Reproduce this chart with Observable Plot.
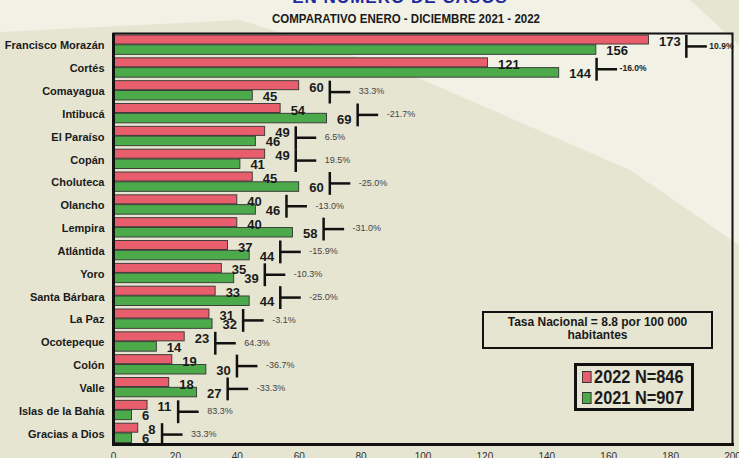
<!DOCTYPE html>
<html><head><meta charset="utf-8">
<script src="https://cdn.jsdelivr.net/npm/d3@7"></script>
<script src="https://cdn.jsdelivr.net/npm/@observablehq/plot@0.6"></script>
<style>
html,body{margin:0;padding:0;background:#E6E5D2;}
#wrap{position:relative;width:739px;height:458px;overflow:hidden;font-family:"Liberation Sans",Arial,sans-serif;}
#bg{position:absolute;left:0;top:0;width:739px;height:458px;background:#F1F1E6;
 clip-path:polygon(0px 0px,690px 0px,739px 45px,739px 245px,630px 170px,400px 70px,240px 20px,0px 32px);}
#chart{position:absolute;left:0;top:0;}
.t-main{position:absolute;left:0;width:800px;text-align:center;top:0;height:20px;line-height:20px;color:#1f2a9c;font-weight:bold;font-size:17px;letter-spacing:1px;transform:translateY(-12px);}
.t-sub{position:absolute;left:0;width:812px;text-align:center;top:12px;color:#1a1a1a;font-weight:bold;font-size:12.5px;transform:scaleX(0.92);transform-origin:406px 0;}
#tasa{position:absolute;left:482px;top:311px;width:227px;height:31px;border:2px solid #111;text-align:center;font-weight:bold;font-size:12px;line-height:13px;color:#1a1a1a;padding-top:3px;box-sizing:content-box;}
#legend{position:absolute;left:574px;top:363px;width:114px;height:42px;border:3px solid #111;}
.li{position:absolute;left:5px;height:20px;display:flex;align-items:center;font-weight:bold;font-size:19px;color:#1a1a1a;transform:scaleX(0.86);transform-origin:0 50%;white-space:nowrap;}
.sw{width:9px;height:10px;border:1px solid #333;margin-right:3px;}
</style></head>
<body>
<div id="wrap">
  <div id="bg"></div>
  <div id="chart"></div>
  <div class="t-main">EN NÚMERO DE CASOS</div>
  <div class="t-sub">COMPARATIVO ENERO - DICIEMBRE 2021 - 2022</div>
  <div id="tasa"></div>
  <div id="legend"></div>
</div>
<script>
const departamentos = ["Francisco Morazán","Cortés","Comayagua","Intibucá","El Paraíso","Copán","Choluteca","Olancho","Lempira","Atlántida","Yoro","Santa Bárbara","La Paz","Ocotepeque","Colón","Valle","Islas de la Bahía","Gracias a Dios"];
const casos2022 = [173,121,60,54,49,49,45,40,40,37,35,33,31,23,19,18,11,8];
const casos2021 = [156,144,45,69,46,41,60,46,58,44,39,44,32,14,30,27,6,6];
const variacion = ["10.9%","-16.0%","33.3%","-21.7%","6.5%","19.5%","-25.0%","-13.0%","-31.0%","-15.9%","-10.3%","-25.0%","-3.1%","64.3%","-36.7%","-33.3%","83.3%","33.3%"];
const xTicks = [0,20,40,60,80,100,120,140,160,180,200];
const seriesNames = ["2022 N=846","2021 N=907"];
const seriesColors = ["#E95E6C","#4DAA4A"];
const tasaText = ["Tasa Nacional = 8.8 por 100 000","habitantes"];

const W = 739, H = 458, mL = 113, mR = 7, mT = 33, mB = 14;
const k = (W - mL - mR) / 200; // px per unit
const digitW = 6.8;
const rows = departamentos.map((name, i) => {
  const a = casos2022[i], b = casos2021[i];
  const endA = a + (10 + digitW * String(a).length) / k;
  const endB = b + (10 + digitW * String(b).length) / k;
  const bx = Math.max(endA, endB) + 7 / k;
  return {name, a, b, pct: variacion[i], bx, bx2: bx + 21 / k, bold: i < 2};
});

const plot = Plot.plot({
  width: W, height: H,
  marginLeft: mL, marginRight: mR, marginTop: mT, marginBottom: mB,
  style: {background: "transparent", fontFamily: '"Liberation Sans",Arial,sans-serif', overflow: "visible", color: "#1a1a1a"},
  x: {domain: [0, 200], ticks: xTicks},
  y: {domain: departamentos, padding: 0, round: false},
  marks: [
    Plot.barX(rows, {x: "a", y: "name", fill: seriesColors[0], stroke: "#333", strokeWidth: 0.9, insetTop: 2, insetBottom: 11.8}),
    Plot.barX(rows, {x: "b", y: "name", fill: seriesColors[1], stroke: "#333", strokeWidth: 0.9, insetTop: 11.8, insetBottom: 1.5}),
    Plot.text(rows, {x: "a", y: "name", text: d => String(d.a), dx: 10, dy: -3, textAnchor: "start", fontWeight: "bold", fontSize: 13, fill: "#1a1a1a"}),
    Plot.text(rows, {x: "b", y: "name", text: d => String(d.b), dx: 10, dy: 6, textAnchor: "start", fontWeight: "bold", fontSize: 13, fill: "#1a1a1a"}),
    Plot.tickX(rows, {x: "bx", y: "name", stroke: "#111", strokeWidth: 2.5, dy: 2}),
    Plot.ruleY(rows, {y: "name", x1: "bx", x2: "bx2", stroke: "#111", strokeWidth: 2.5, dy: 1.5}),
    Plot.text(rows.filter(d => !d.bold), {x: "bx2", y: "name", text: "pct", dx: 8, dy: 1, textAnchor: "start", fontSize: 9, fill: "#444"}),
    Plot.text(rows.filter(d => d.bold), {x: "bx2", y: "name", text: "pct", dx: 2, dy: 1, textAnchor: "start", fontSize: 8.5, fontWeight: "bold", fill: "#222"}),
    Plot.frame({stroke: "#111", strokeWidth: 2}),
    Plot.ruleX([0], {stroke: "#111", strokeWidth: 3}),
    Plot.frame({anchor: "bottom", stroke: "#111", strokeWidth: 3}),
    Plot.axisY({tickSize: 0, tickPadding: 9, fontWeight: "bold", fontSize: 11, label: null, fill: "#1a1a1a", dy: 1}),
    Plot.axisX({ticks: xTicks, tickSize: 0, tickPadding: 8, fontSize: 10, label: null, fill: "#333"})
  ]
});
document.getElementById("chart").appendChild(plot);

document.getElementById("tasa").innerHTML = tasaText.join("<br>");
const lg = document.getElementById("legend");
seriesNames.forEach((n, i) => {
  const el = document.createElement("div");
  el.className = "li";
  el.style.top = (i === 0 ? 1 : 22) + "px";
  el.innerHTML = `<span class="sw" style="background:${seriesColors[i]}"></span>${n}`;
  lg.appendChild(el);
});
</script>
</body></html>
